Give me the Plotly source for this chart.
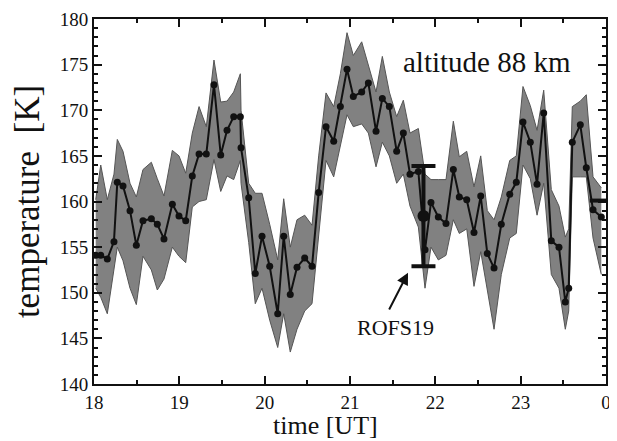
import plotly.graph_objects as go

# time (hours UT) of each sample
time_ut = [18.020, 18.079, 18.156, 18.234, 18.273, 18.340, 18.422, 18.496, 18.574, 18.672,
           18.742, 18.820, 18.918, 18.996, 19.075, 19.152, 19.231, 19.316, 19.406, 19.485,
           19.559, 19.637, 19.715, 19.723, 19.813, 19.890, 19.969, 20.059, 20.153, 20.223,
           20.300, 20.379, 20.469, 20.555, 20.633, 20.719, 20.809, 20.887, 20.965, 21.039,
           21.137, 21.215, 21.305, 21.379, 21.461, 21.547, 21.625, 21.703, 21.801, 21.879,
           21.949, 22.035, 22.125, 22.211, 22.281, 22.368, 22.453, 22.532, 22.609, 22.688,
           22.773, 22.872, 22.949, 23.027, 23.113, 23.192, 23.270, 23.359, 23.449, 23.523,
           23.563, 23.605, 23.699, 23.769, 23.848, 23.945]
temperature = [154.1, 154.1, 153.7, 155.6, 162.1, 161.7, 159.0, 155.2, 157.9, 158.1,
               157.5, 155.9, 159.7, 158.4, 157.9, 162.8, 165.2, 165.2, 172.8, 165.1,
               167.8, 169.3, 169.3, 165.9, 160.4, 152.1, 156.2, 152.9, 147.7, 156.2,
               149.8, 152.8, 153.8, 152.9, 161.0, 168.2, 166.6, 170.4, 174.5, 171.5,
               172.0, 173.0, 167.7, 171.3, 170.4, 165.5, 167.5, 163.0, 163.3, 154.7,
               159.9, 158.3, 157.6, 163.5, 160.5, 160.2, 156.6, 160.6, 154.3, 152.7,
               157.5, 160.8, 162.1, 168.7, 166.5, 161.9, 169.7, 155.7, 155.0, 149.0,
               150.5, 166.5, 168.4, 163.7, 159.1, 158.3]
band_upper = [160.2, 164.0, 160.2, 163.0, 166.8, 165.5, 162.0, 160.5, 163.5, 164.3,
              162.5, 160.6, 165.6, 165.0, 163.1, 167.5, 170.4, 168.2, 175.5, 170.9,
              171.0, 172.0, 174.0, 170.0, 162.0, 160.9, 160.9, 157.5, 153.6, 160.3,
              155.0, 158.0, 158.5, 157.4, 165.0, 171.9, 170.4, 174.0, 178.5, 176.0,
              177.5, 175.0, 172.0, 175.9, 172.0, 169.3, 171.1, 167.5, 168.0, 163.0,
              162.4, 162.4, 162.4, 168.8, 164.9, 165.5, 161.6, 165.0, 159.0, 158.0,
              160.5, 164.5, 165.0, 172.6, 170.5, 167.8, 172.2, 161.3, 159.5, 156.1,
              157.0, 170.4, 171.0, 171.7, 162.7, 161.5]
band_lower = [150.5, 149.5, 147.7, 152.9, 155.0, 153.5, 150.5, 148.7, 154.0, 152.5,
              150.3, 151.5, 155.0, 154.0, 153.3, 159.4, 160.0, 160.2, 164.6, 161.1,
              162.8, 162.4, 164.5, 162.0, 155.5, 148.8, 150.5, 147.0, 144.0, 147.7,
              143.5, 146.0, 148.0, 148.8, 156.0, 164.5, 162.7, 166.0, 169.5, 168.2,
              168.5, 167.5, 163.8, 166.5, 165.0, 162.0, 163.0, 159.5, 157.2, 150.5,
              155.0, 153.6, 154.1, 158.0, 156.5, 157.0, 150.7, 154.5, 150.5, 146.0,
              152.0, 156.0, 156.5, 164.0, 162.5, 158.5, 162.0, 152.0, 150.5, 146.0,
              148.0, 162.7, 162.7, 162.7, 156.0, 152.0]

# ROFS19 measurement
rofs_time = [21.861]
rofs_temp = [158.4]
rofs_err_plus = [5.5]
rofs_err_minus = [5.5]
# partial marker at right edge
edge_time = [23.81, 24.0]
edge_temp = [160.1, 160.1]

x_tickvals = [18, 19, 20, 21, 22, 23, 24]
x_ticktext = ["18", "19", "20", "21", "22", "23", "0"]

FONT = "Liberation Serif, Times New Roman, serif"
INK = "#111111"

fig = go.Figure()
fig.add_trace(go.Scatter(x=time_ut, y=band_lower, mode="lines",
                         line=dict(color="#555555", width=1), showlegend=False,
                         hoverinfo="skip"))
fig.add_trace(go.Scatter(x=time_ut, y=band_upper, mode="lines", fill="tonexty",
                         fillcolor="#818181", line=dict(color="#555555", width=1),
                         showlegend=False, hoverinfo="skip"))
fig.add_trace(go.Scatter(x=time_ut, y=temperature, mode="lines+markers",
                         line=dict(color=INK, width=2),
                         marker=dict(color=INK, size=7),
                         showlegend=False))
fig.add_trace(go.Scatter(x=rofs_time, y=rofs_temp, mode="markers",
                         marker=dict(color=INK, size=12),
                         error_y=dict(type="data", symmetric=False,
                                      array=rofs_err_plus, arrayminus=rofs_err_minus,
                                      color=INK, thickness=4, width=12),
                         showlegend=False))
fig.add_trace(go.Scatter(x=edge_time, y=edge_temp, mode="lines",
                         line=dict(color=INK, width=4), showlegend=False))

fig.add_annotation(x=22.6, y=175.3, text="altitude 88 km", showarrow=False,
                   font=dict(family=FONT, size=29, color=INK))
fig.add_annotation(x=21.53, y=146.2, text="ROFS19", showarrow=False,
                   font=dict(family=FONT, size=22, color=INK))
fig.add_annotation(x=21.68, y=152.2, ax=21.45, ay=148.0, axref="x", ayref="y",
                   text="", showarrow=True, arrowhead=2, arrowsize=1.2,
                   arrowwidth=2, arrowcolor=INK)
# x-axis title
fig.add_annotation(xref="paper", yref="paper", x=0.453, y=-0.158,
                   xanchor="center", yanchor="bottom", text="time [UT]",
                   showarrow=False, font=dict(family=FONT, size=26, color=INK))

axis_common = dict(showline=True, linecolor=INK, linewidth=2, mirror="allticks",
                   ticks="inside", ticklen=8, tickwidth=1.5, tickcolor=INK,
                   showgrid=False, zeroline=False, automargin=False,
                   tickfont=dict(family=FONT, size=19, color=INK))

fig.update_xaxes(range=[18, 24], tickvals=x_tickvals, ticktext=x_ticktext,
                 minor=dict(dtick=0.5, ticks="inside", ticklen=4, tickcolor=INK),
                 **axis_common)
fig.update_yaxes(range=[140, 180], dtick=5,
                 minor=dict(dtick=1, ticks="inside", ticklen=4, tickcolor=INK),
                 title=dict(text="temperature  [K]", font=dict(family=FONT, size=35, color=INK),
                            standoff=12),
                 **axis_common)

# the page body has an 8 px margin, so the figure is sized to fit inside 617x441
fig.update_layout(width=609, height=433, margin=dict(l=86, r=11, t=11, b=57),
                  plot_bgcolor="white", paper_bgcolor="white", showlegend=False)

fig.write_html("out.html")
